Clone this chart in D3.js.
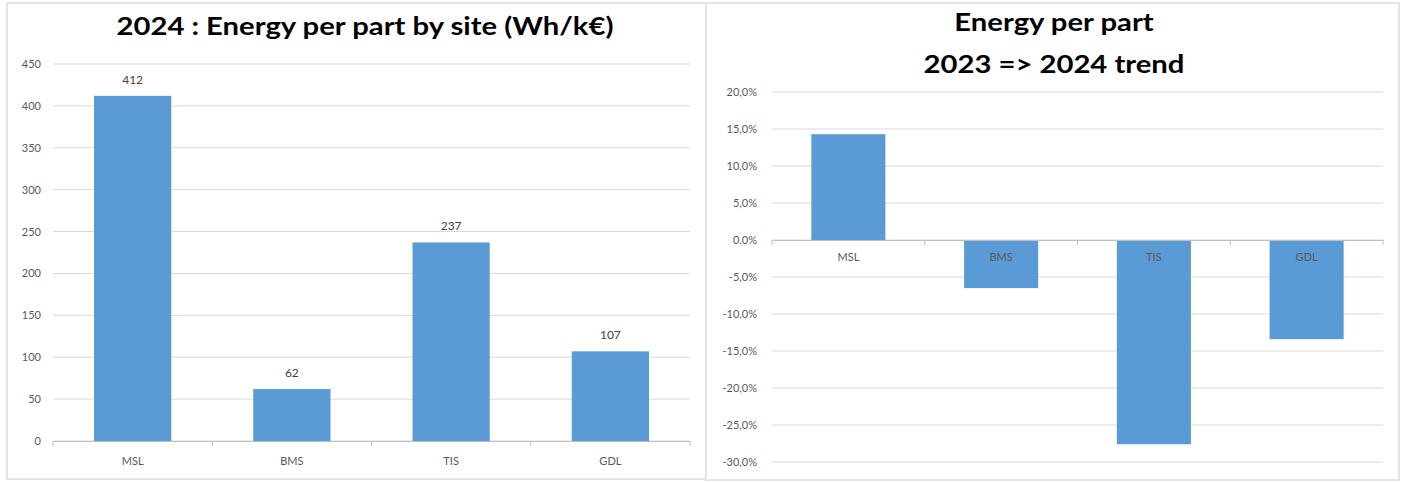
<!DOCTYPE html>
<html>
<head>
<meta charset="utf-8">
<script src="https://cdn.jsdelivr.net/npm/d3@7"></script>
<style>
  body { margin: 0; background: #fff; }
  text { font-family: Lato, "Open Sans", sans-serif; }
</style>
</head>
<body>
<div id="vis"></div>
<script>
'use strict';

// data
var sites = ['MSL', 'BMS', 'TIS', 'GDL'];
var energy2024 = [412, 62, 237, 107];
var trend = [0.143, -0.065, -0.276, -0.134];
var energyTicks = [0, 50, 100, 150, 200, 250, 300, 350, 400, 450];
var trendTicks = [0.2, 0.15, 0.1, 0.05, 0, -0.05, -0.1, -0.15, -0.2, -0.25, -0.3];

var W = 1401, H = 482;
var barColor = '#5b9bd5';
var gridColor = '#d9d9d9';
var tickColor = '#595959';

var svg = d3.select('#vis').append('svg')
  .attr('width', W).attr('height', H);

// panel frames
var frame = svg.append('g').attr('fill', 'none').attr('stroke', '#e3e3e3').attr('stroke-width', 2);
frame.append('rect').attr('x', 7).attr('y', 3).attr('width', 699).attr('height', 476);
frame.append('rect').attr('x', 706).attr('y', 3).attr('width', 693).attr('height', 477);

var loc = d3.formatLocale({decimal: ',', thousands: ' ', grouping: [3], currency: ['', '€'], minus: '-'});
var pct = loc.format('.1%');

function drawChart(opts) {
  var g = svg.append('g');
  var x = d3.scaleBand().domain(sites).range([opts.x0, opts.x1]);
  var y = d3.scaleLinear().domain(opts.domain).range([opts.yBottom, opts.yTop]);

  // gridlines
  g.append('g').selectAll('line').data(opts.ticks).enter().append('line')
    .attr('x1', opts.x0).attr('x2', opts.x1)
    .attr('y1', function(d){ return y(d); }).attr('y2', function(d){ return y(d); })
    .attr('stroke', gridColor).attr('stroke-width', 1);

  // y tick labels
  var yAxis = d3.axisLeft(y).tickValues(opts.ticks).tickFormat(opts.fmt).tickSize(0).tickPadding(0);
  var ya = g.append('g').attr('transform', 'translate(' + opts.labelX + ',0)').call(yAxis);
  ya.select('.domain').remove();
  ya.selectAll('text').attr('fill', tickColor).style('font-size', '11px').style('font-family', 'Lato, sans-serif');

  // bars
  var bw = x.bandwidth() * 0.485;
  g.append('g').selectAll('rect').data(opts.values).enter().append('rect')
    .attr('x', function(d, i){ return x(sites[i]) + (x.bandwidth() - bw) / 2; })
    .attr('y', function(d){ return y(Math.max(0, d)); })
    .attr('width', bw)
    .attr('height', function(d){ return Math.abs(y(d) - y(0)); })
    .attr('fill', barColor);

  // category axis at zero
  var xAxis = d3.axisBottom(x).tickSize(0).tickPadding(0);
  var xa = g.append('g').attr('transform', 'translate(0,' + y(0) + ')').call(xAxis);
  xa.select('.domain').attr('stroke', '#bfbfbf');
  xa.selectAll('text').attr('fill', tickColor).attr('dy', opts.catDy)
    .style('font-size', '11px').style('font-family', 'Lato, sans-serif');
  var bounds = x.domain().map(function(s){ return x(s); }).concat([opts.x1]);
  xa.selectAll('.bnd').data(bounds).enter().append('line')
    .attr('x1', function(d){ return d; }).attr('x2', function(d){ return d; })
    .attr('y1', 0).attr('y2', 5).attr('stroke', '#bfbfbf');

  // data labels
  if (opts.labels) {
    g.append('g').selectAll('text').data(opts.values).enter().append('text')
      .attr('x', function(d, i){ return x(sites[i]) + x.bandwidth() / 2; })
      .attr('y', function(d){ return y(d) - 12; })
      .attr('text-anchor', 'middle').attr('fill', '#404040')
      .style('font-size', '12px')
      .text(function(d){ return d; });
  }

  // title (the source picture is a bit stretched horizontally)
  var t = svg.append('text').attr('text-anchor', 'middle')
    .attr('transform', 'translate(' + opts.titleX + ',0) scale(1.17,1)')
    .attr('font-weight', 'bold').style('font-size', '25px').attr('fill', '#000');
  opts.title.forEach(function(line, i){
    t.append('tspan').attr('x', 0).attr('y', opts.titleY + i * 42).text(line);
  });
}

drawChart({
  values: energy2024, ticks: energyTicks, domain: [0, 450],
  x0: 53, x1: 690, yBottom: 441, yTop: 64, labelX: 41,
  fmt: loc.format('d'), catDy: '2.15em', labels: true,
  title: ['2024 : Energy per part by site (Wh/k€)'], titleX: 365, titleY: 35
});

drawChart({
  values: trend, ticks: trendTicks, domain: [-0.3, 0.2],
  x0: 772, x1: 1383, yBottom: 462, yTop: 92, labelX: 757,
  fmt: pct, catDy: '1.95em', labels: false,
  title: ['Energy per part', '2023 => 2024 trend'], titleX: 1054, titleY: 31
});
</script>
</body>
</html>
